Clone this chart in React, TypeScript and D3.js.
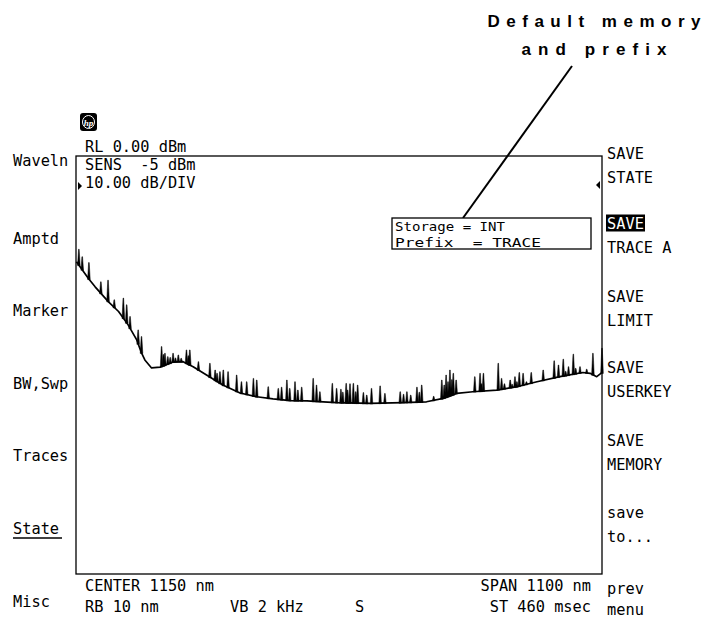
import React from 'react';
import * as d3 from 'd3';

// Baseline of the trace (wavelength nm, level dBm)
const BASE_NM = [601, 626, 640, 668, 689, 709, 727, 737, 744, 758, 776, 803, 824, 845, 873, 907, 943, 978, 1012, 1048, 1083, 1117, 1145, 1215, 1284, 1333, 1368, 1396, 1430, 1480, 1522, 1564, 1612, 1660, 1675, 1689, 1699];
const BASE_DBM = [-25.3, -29.3, -31.3, -34.9, -37.2, -40.4, -44.0, -47.1, -48.8, -50.7, -50.5, -49.3, -49.2, -50.4, -52.4, -54.8, -56.7, -57.6, -58.1, -58.5, -58.6, -58.8, -59.0, -59.2, -59.0, -58.8, -58.0, -56.8, -56.4, -56.0, -55.2, -54.0, -52.8, -51.8, -52.0, -52.8, -51.9];

// Noise spikes on the trace (wavelength nm, peak dBm)
const SPIKE_NM = [606, 613, 627, 652, 667, 680, 699, 706, 713, 730, 737, 779, 783, 786, 792, 797, 803, 808, 814, 820, 831, 835, 838, 856, 880, 891, 895, 901, 908, 918, 936, 946, 957, 971, 978, 1002, 1023, 1030, 1041, 1047, 1058, 1064, 1072, 1096, 1103, 1110, 1136, 1145, 1154, 1158, 1165, 1168, 1173, 1180, 1185, 1189, 1201, 1208, 1218, 1236, 1246, 1278, 1285, 1292, 1300, 1313, 1318, 1323, 1348, 1365, 1370, 1374, 1378, 1382, 1386, 1389, 1395, 1434, 1445, 1448, 1452, 1483, 1490, 1496, 1508, 1512, 1518, 1522, 1527, 1535, 1542, 1552, 1577, 1600, 1609, 1619, 1624, 1630, 1640, 1645, 1654, 1668, 1681, 1700];
const SPIKE_DBM = [-22.3, -24.1, -25.5, -30.1, -29.7, -34.4, -34.0, -35.6, -38.4, -41.6, -43.2, -45.6, -47.5, -47.2, -48.0, -48.2, -47.2, -48.3, -47.6, -48.4, -46.4, -47.8, -46.4, -49.2, -49.6, -51.2, -52.0, -51.6, -51.2, -51.6, -52.4, -54.0, -54.0, -53.2, -53.6, -55.2, -55.6, -55.3, -53.6, -55.6, -54.0, -56.0, -55.3, -53.2, -54.8, -56.4, -54.4, -55.6, -55.8, -56.5, -54.4, -56.0, -54.5, -54.4, -56.4, -54.8, -56.6, -57.2, -55.6, -55.0, -56.8, -56.4, -57.0, -56.4, -57.2, -55.3, -56.5, -54.8, -57.5, -53.6, -54.8, -52.4, -54.0, -51.2, -53.5, -52.0, -53.6, -52.8, -52.0, -54.5, -52.0, -49.6, -53.2, -54.5, -53.6, -54.6, -52.8, -54.0, -51.8, -52.0, -54.0, -51.8, -51.2, -49.0, -50.0, -48.6, -51.5, -50.4, -47.4, -50.8, -50.4, -51.0, -47.2, -46.0];

const LEFT_KEYS = ['Waveln', 'Amptd', 'Marker', 'BW,Swp', 'Traces', 'State', 'Misc'];
const RIGHT_KEYS_TOP = ['SAVE', 'SAVE', 'SAVE', 'SAVE', 'SAVE', 'save', 'prev'];
const RIGHT_KEYS_BOTTOM = ['STATE', 'TRACE A', 'LIMIT', 'USERKEY', 'MEMORY', 'to...', 'menu'];
const HEADER = ['RL 0.00 dBm', 'SENS  -5 dBm', '10.00 dB/DIV'];
const FOOTER_LEFT = ['CENTER 1150 nm', 'RB 10 nm'];
const FOOTER_RIGHT = ['SPAN 1100 nm', 'ST 460 msec'];
const FOOTER_MID = ['VB 2 kHz', 'S'];
const BOX_LINES = ['Storage = INT', 'Prefix  = TRACE'];
const NOTE_LINES = ['Default memory', 'and prefix'];

const MONO = '"DejaVu Sans Mono", monospace';

export default function App() {
  const L = 76, R = 602, T = 156, B = 574;
  const x = d3.scaleLinear().domain([600, 1700]).range([L, R]);
  const y = d3.scaleLinear().domain([0, -100]).range([T, B]);
  const baseAt = d3.scaleLinear().domain(BASE_NM).range(BASE_DBM).clamp(true);

  const line = d3.line<number>()
    .x((_, i) => x(BASE_NM[i]))
    .y((d) => y(d));
  const basePath = line(BASE_DBM) || '';

  const spikes = SPIKE_NM.map((nm, i) => {
    const xs = x(nm);
    const yb = y(baseAt(nm));
    const yp = y(SPIKE_DBM[i]);
    return `M${xs - 1.3},${yb + 0.5}L${xs - 0.3},${yp}L${xs + 0.3},${yp}L${xs + 1.3},${yb + 0.5}Z`;
  });

  const leftY = [160, 238, 310, 383, 455, 528, 601];
  const rightY = [153, 223, 296, 367, 440, 512, 588];
  const fs = 15.3;
  const off = 5.5;

  return (
    <svg width={716} height={617} style={{ position: 'absolute', left: 0, top: 0, background: '#fff' }}>
      {/* annotation */}
      {NOTE_LINES.map((t, i) => (
        <text key={t} x={594} y={[27, 55][i]} textAnchor="middle" fontFamily='"Liberation Sans", Arial, sans-serif'
          fontWeight="bold" fontSize={17} textLength={[213, 145][i]} lengthAdjust="spacing" fill="#000">{t}</text>
      ))}
      <line x1={572} y1={66} x2={463} y2={218} stroke="#000" strokeWidth={2} />

      {/* hp logo */}
      <rect x={80} y={113} width={17} height={18} rx={3} fill="#000" />
      <ellipse cx={88.5} cy={122} rx={6} ry={6.5} fill="none" stroke="#fff" strokeWidth={1} />
      <text x={88.5} y={125.5} textAnchor="middle" fontFamily='"Liberation Serif", serif' fontStyle="italic"
        fontWeight="bold" fontSize={9} fill="#fff">hp</text>

      {/* frame */}
      <rect x={L} y={T} width={R - L} height={B - T} fill="none" stroke="#000" strokeWidth={1.3} />

      {/* header */}
      {HEADER.map((t, i) => (
        <text key={t} x={85} y={[146, 164, 182][i] + off} fontFamily={MONO} fontSize={fs} fill="#000"
          style={{ whiteSpace: 'pre' }}>{t}</text>
      ))}
      {/* reference markers */}
      <path d={`M${L + 2},${182} L${L + 6},${186} L${L + 2},${190}Z`} fill="#000" />
      <path d={`M${R - 2},${181} L${R - 6},${185} L${R - 2},${189}Z`} fill="#000" />

      {/* storage box */}
      <rect x={392} y={218} width={199} height={31} fill="#fff" stroke="#000" strokeWidth={1.3} />
      {BOX_LINES.map((t, i) => (
        <text key={t} x={395} y={[226, 242][i] + 4.8} fontFamily={MONO} fontSize={13} fill="#000"
          textLength={[110, 146][i]} lengthAdjust="spacingAndGlyphs" style={{ whiteSpace: 'pre' }}>{t}</text>
      ))}

      {/* trace */}
      <path d={basePath} fill="none" stroke="#000" strokeWidth={1.7} strokeLinejoin="round" />
      {spikes.map((d, i) => <path key={i} d={d} fill="#000" stroke="#000" strokeWidth={0.5} />)}

      {/* left softkeys */}
      {LEFT_KEYS.map((t, i) => (
        <text key={t} x={13} y={leftY[i] + off} fontFamily={MONO} fontSize={fs} fill="#000">{t}</text>
      ))}
      <line x1={13} x2={62} y1={leftY[5] + 10} y2={leftY[5] + 10} stroke="#000" strokeWidth={1.3} />

      {/* right softkeys */}
      <rect x={606} y={rightY[1] - 8.5} width={39} height={17} fill="#000" />
      {RIGHT_KEYS_TOP.map((t, i) => (
        <text key={'a' + i} x={607} y={rightY[i] + off} fontFamily={MONO} fontSize={fs}
          fill={i === 1 ? '#fff' : '#000'}>{t}</text>
      ))}
      {RIGHT_KEYS_BOTTOM.map((t, i) => (
        <text key={'b' + i} x={607} y={rightY[i] + (i === 6 ? 21 : 24) + off} fontFamily={MONO} fontSize={fs} fill="#000">{t}</text>
      ))}

      {/* footer */}
      {FOOTER_LEFT.map((t, i) => (
        <text key={t} x={85} y={[585, 606][i] + off} fontFamily={MONO} fontSize={fs} fill="#000">{t}</text>
      ))}
      {FOOTER_RIGHT.map((t, i) => (
        <text key={t} x={591} y={[585, 606][i] + off} textAnchor="end" fontFamily={MONO} fontSize={fs} fill="#000">{t}</text>
      ))}
      {FOOTER_MID.map((t, i) => (
        <text key={t} x={[230, 355][i]} y={606 + off} fontFamily={MONO} fontSize={fs} fill="#000">{t}</text>
      ))}
    </svg>
  );
}
